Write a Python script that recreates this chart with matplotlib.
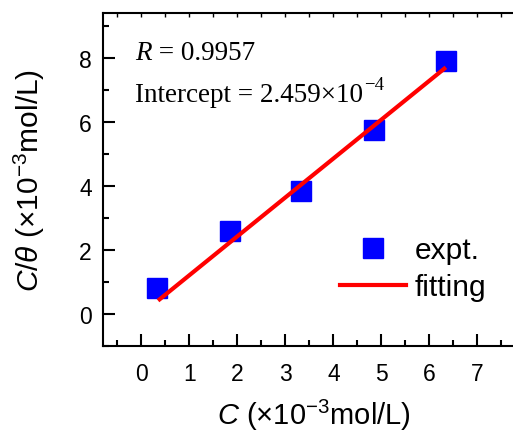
import matplotlib
matplotlib.use('Agg')
from matplotlib import pyplot as plt
from matplotlib.ticker import MultipleLocator

plt.rcParams['font.family'] = ['Liberation Sans', 'DejaVu Sans']
plt.rcParams['mathtext.fontset'] = 'custom'
plt.rcParams['mathtext.rm'] = 'Liberation Sans'
plt.rcParams['mathtext.it'] = 'Liberation Sans:italic'

# experimental points (x in 1e-3 mol/L)
conc = [0.33, 1.85, 3.33, 4.85, 6.35]
c_theta = [0.81, 2.60, 3.84, 5.75, 7.90]
# fitted line end points
fit_x = [0.38, 6.31]
fit_y = [0.45, 7.66]

r_value = '0.9957'
intercept = '2.459'

fig = plt.figure(figsize=(5.13, 4.35), dpi=100, facecolor='w')
ax = fig.add_axes([103 / 513, 1 - 346.7 / 435, 422.4 / 513, 332.7 / 435])

ax.plot(conc, c_theta, 's', color='#0000ff', ms=14, mec='#0000ff', label='expt.', zorder=3)
ax.plot(fit_x, fit_y, '-', color='#ff0000', lw=3, label='fitting', zorder=4)

ax.set_xlim(-0.8, 8.0)
ax.set_ylim(-1.0, 9.4)

ax.spines['right'].set_visible(False)
for s in ['left', 'bottom', 'top']:
    ax.spines[s].set_linewidth(1.5)

ax.xaxis.set_minor_locator(MultipleLocator(0.5))
ax.yaxis.set_minor_locator(MultipleLocator(1))
ax.set_xticks(range(0, 8))
ax.set_yticks(range(0, 10, 2))
ax.tick_params(which='both', direction='in', width=1.5, top=False, right=False)
ax.tick_params(which='major', length=8.5, labelsize=16.5)
ax.tick_params(axis='x', which='major', pad=12)
ax.tick_params(axis='y', which='major', pad=8)
ax.tick_params(which='minor', length=4.5)

# short ticks along the top border
top = ax.twiny()
top.set_xlim(ax.get_xlim())
top.xaxis.set_major_locator(MultipleLocator(0.5))
top.tick_params(axis='x', direction='in', length=3, width=1, labeltop=False)
for s in top.spines.values():
    s.set_visible(False)

ax.set_xlabel(r'$C$ (×10$^{-3}$mol/L)', fontsize=21, labelpad=8)
ax.set_ylabel(r'$C/\theta$ (×10$^{-3}$mol/L)', fontsize=21.5, labelpad=23)

# fit results, Times-like font; pieces chained so no mathtext is needed
serif = dict(family='Liberation Serif', fontsize=19.5)
t_r = ax.text(0.076, 0.862, 'R', transform=ax.transAxes, style='italic', va='baseline', **serif)
ax.annotate(' = ' + r_value, xy=(1, 0), xycoords=t_r, va='bottom', **serif)
t_i = ax.text(0.076, 0.736, 'Intercept = ' + intercept + '×10', transform=ax.transAxes,
              va='baseline', **serif)
ax.annotate('\u22124', xy=(1, 1), xycoords=t_i, xytext=(0.5, 4), textcoords='offset points',
            va='top', family='Liberation Serif', fontsize=13.5)

ax.legend(loc='upper left', bbox_to_anchor=(340 / 513, 1 - 237 / 435), bbox_transform=fig.transFigure,
          frameon=False, fontsize=21.5, handlelength=2.2, handletextpad=0.3, borderpad=0,
          borderaxespad=0, labelspacing=0.3, markerscale=1.0)

fig.savefig('out.png', dpi=100)
